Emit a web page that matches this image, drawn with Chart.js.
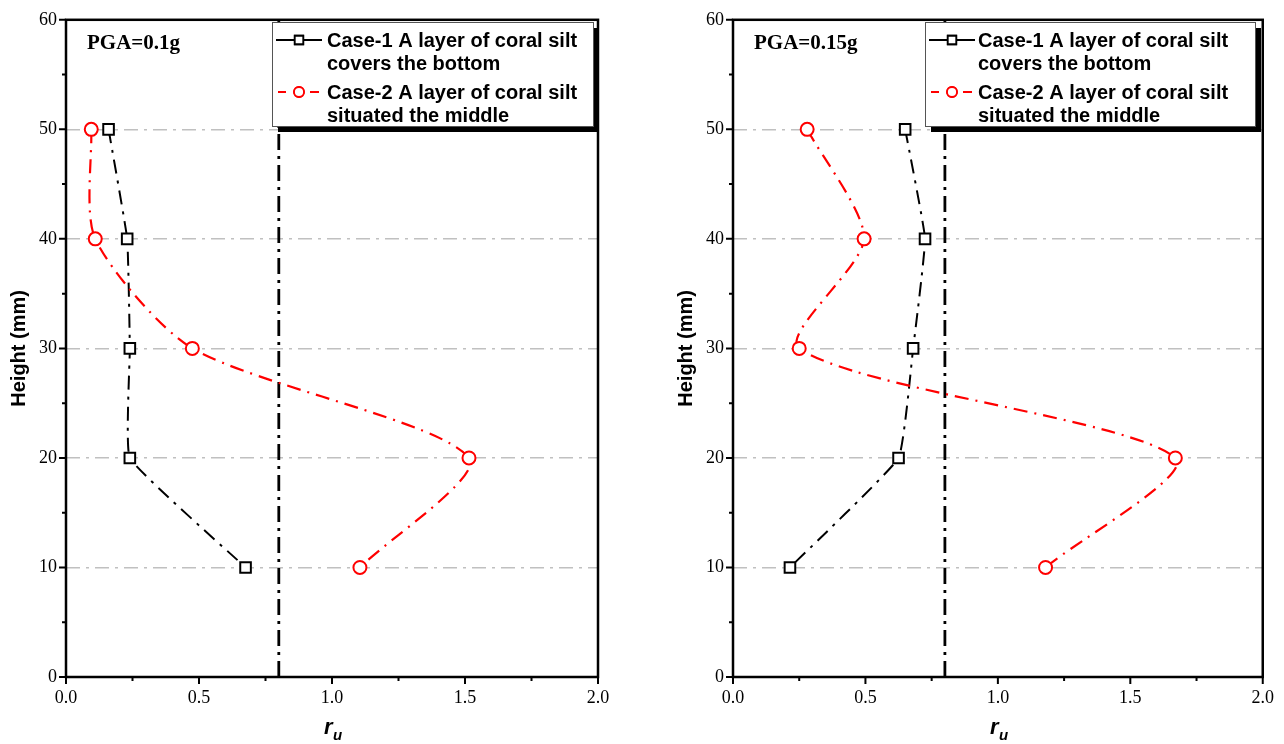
<!DOCTYPE html>
<html>
<head>
<meta charset="utf-8">
<script src="https://cdn.jsdelivr.net/npm/chart.js@4/dist/chart.umd.min.js"></script>
<style>
  html, body { margin: 0; padding: 0; background: #fff; overflow: hidden; }
  canvas { position: absolute; top: 0; }
</style>
</head>
<body>
<canvas id="chartA" width="620" height="744" style="left:0"></canvas>
<canvas id="chartB" width="617" height="744" style="left:667px"></canvas>
<script>
// data
const heights = [50, 40, 30, 20, 10];
const case1Pga01 = [0.16, 0.23, 0.24, 0.24, 0.675];
const case2Pga01 = [0.095, 0.11, 0.475, 1.515, 1.105];
const case1Pga015 = [0.65, 0.725, 0.68, 0.625, 0.215];
const case2Pga015 = [0.28, 0.495, 0.25, 1.67, 1.18];
const thresholdRu = 0.8;
const xTicks = [0, 0.5, 1, 1.5, 2];
const yTicks = [0, 10, 20, 30, 40, 50, 60];
const legendLabels = [
  ['Case-1 A layer of coral silt', 'covers the bottom'],
  ['Case-2 A layer of coral silt', 'situated the middle']
];

const SERIF = '"Liberation Serif", "Times New Roman", serif';
const SANS = '"Liberation Sans", Arial, sans-serif';

function pts(xs) { return xs.map((x, i) => ({ x: x, y: heights[i] })); }

// frame, minor ticks, titles, PGA text and the boxed legend
const decorPlugin = {
  id: 'decor',
  afterDraw(chart, args, opts) {
    const { ctx, chartArea: a, scales: { x, y } } = chart;
    ctx.save();
    // ticks (outward), major + minor
    ctx.strokeStyle = '#000';
    ctx.lineWidth = 2;
    ctx.beginPath();
    xTicks.forEach((v, i) => {
      const px = x.getPixelForValue(v);
      ctx.moveTo(px, a.bottom); ctx.lineTo(px, a.bottom + 7);
      if (i < xTicks.length - 1) {
        const mx = x.getPixelForValue(v + 0.25);
        ctx.moveTo(mx, a.bottom); ctx.lineTo(mx, a.bottom + 4);
      }
    });
    yTicks.forEach((v, i) => {
      const py = y.getPixelForValue(v);
      ctx.moveTo(a.left, py); ctx.lineTo(a.left - 7, py);
      if (i < yTicks.length - 1) {
        const my = y.getPixelForValue(v + 5);
        ctx.moveTo(a.left, my); ctx.lineTo(a.left - 4, my);
      }
    });
    ctx.stroke();
    // frame
    ctx.lineWidth = 2.5;
    ctx.strokeRect(a.left, a.top, a.right - a.left, a.bottom - a.top);

    // y title
    ctx.fillStyle = '#000';
    ctx.font = 'bold 20px ' + SANS;
    ctx.textAlign = 'center';
    ctx.textBaseline = 'middle';
    ctx.save();
    ctx.translate(19, (a.top + a.bottom) / 2);
    ctx.rotate(-Math.PI / 2);
    ctx.fillText('Height (mm)', 0, 0);
    ctx.restore();

    // x title r_u
    const cx = (a.left + a.right) / 2;
    ctx.textBaseline = 'alphabetic';
    ctx.textAlign = 'left';
    ctx.font = 'italic bold 22px ' + SANS;
    ctx.fillText('r', cx - 8, 734);
    ctx.font = 'italic bold 15px ' + SANS;
    ctx.fillText('u', cx + 1, 740);

    // PGA label
    ctx.font = 'bold 21px ' + SERIF;
    ctx.fillText(opts.pga, a.left + 21, 49);

    // legend box with shadow
    const b = opts.box;
    ctx.fillStyle = '#000';
    ctx.fillRect(b.x + 6, b.y + 6, b.w, b.h);
    ctx.fillStyle = '#fff';
    ctx.fillRect(b.x, b.y, b.w, b.h);
    ctx.strokeStyle = '#555';
    ctx.lineWidth = 1;
    ctx.strokeRect(b.x + 0.5, b.y + 0.5, b.w, b.h);

    const rowsY = [b.y + 18, b.y + 41, b.y + 70, b.y + 93];
    const styles = [
      { color: '#000', pointStyle: 'rect', radius: 6, dash: [], x0: 4, x1: 50 },
      { color: '#ff0000', pointStyle: 'circle', radius: 5, dash: [9, 6, 9, 14, 9, 6], x0: 8, x1: 46 }
    ];
    legendLabels.forEach((lines, k) => {
      const s = styles[k];
      const ly = rowsY[k * 2];
      ctx.strokeStyle = s.color;
      ctx.lineWidth = 2;
      ctx.beginPath();
      if (k === 0) {
        ctx.moveTo(b.x + 4, ly); ctx.lineTo(b.x + 50, ly);
      } else {
        ctx.moveTo(b.x + 6, ly); ctx.lineTo(b.x + 14, ly);
        ctx.moveTo(b.x + 38, ly); ctx.lineTo(b.x + 47, ly);
      }
      ctx.stroke();
      ctx.fillStyle = '#fff';
      ctx.lineWidth = 1.8;
      Chart.helpers.drawPoint(ctx, { pointStyle: s.pointStyle, radius: s.radius, borderWidth: 1.8, rotation: 0 }, b.x + 27, ly);
      ctx.fill();
      ctx.stroke();
      ctx.fillStyle = '#000';
      ctx.font = 'bold 20px ' + SANS;
      ctx.textBaseline = 'middle';
      ctx.fillText(lines[0], b.x + b.tx, ly + 1);
      ctx.fillText(lines[1], b.x + b.tx, rowsY[k * 2 + 1] + 1);
    });
    ctx.restore();
  }
};

function makeChart(id, c1, c2, pga, box, padRight) {
  return new Chart(document.getElementById(id), {
    type: 'scatter',
    data: {
      datasets: [
        {
          label: 'Case-1',
          data: pts(c1),
          showLine: true,
          borderColor: '#000',
          borderWidth: 2,
          borderDash: [14, 7, 3, 7],
          tension: 0.1,
          pointStyle: 'rect',
          pointRadius: 7.5,
          pointBorderWidth: 2,
          pointBackgroundColor: '#fff',
          pointBorderColor: '#000',
          order: 1
        },
        {
          label: 'Case-2',
          data: pts(c2),
          showLine: true,
          borderColor: '#ff0000',
          borderWidth: 2.2,
          borderDash: [14, 7, 2, 7],
          tension: 0.25,
          pointStyle: 'circle',
          pointRadius: 6.5,
          pointBorderWidth: 2,
          pointBackgroundColor: '#fff',
          pointBorderColor: '#ff0000',
          order: 0
        },
        {
          label: 'threshold',
          data: [{ x: thresholdRu, y: 0 }, { x: thresholdRu, y: 60 }],
          showLine: true,
          borderColor: '#000',
          borderWidth: 2.8,
          borderDash: [16, 6, 3, 6],
          pointRadius: 0,
          order: 2
        }
      ]
    },
    options: {
      responsive: false,
      animation: false,
      devicePixelRatio: 1,
      layout: { padding: { top: 18, right: padRight, left: 0, bottom: 0 } },
      plugins: {
        legend: { display: false },
        tooltip: { enabled: false },
        decor: { pga: pga, box: box }
      },
      scales: {
        x: {
          type: 'linear', min: 0, max: 2,
          afterFit: s => { s.height = 67; },
          afterBuildTicks: s => { s.ticks = xTicks.map(v => ({ value: v })); },
          ticks: { color: '#000', padding: 10, font: { family: SERIF, size: 18 }, callback: v => v.toFixed(1) },
          grid: { display: false, drawTicks: false },
          border: { display: false }
        },
        y: {
          type: 'linear', min: 0, max: 60,
          afterFit: s => { s.width = 66; },
          afterBuildTicks: s => { s.ticks = yTicks.map(v => ({ value: v })); },
          ticks: { color: '#000', padding: 9, font: { family: SERIF, size: 18 } },
          grid: {
            drawTicks: false,
            lineWidth: 1.5,
            color: c => (c.tick && c.tick.value > 0 && c.tick.value < 60) ? '#c0c0c0' : 'rgba(0,0,0,0)'
          },
          border: { display: false, dash: [14, 6, 3, 6] }
        }
      }
    },
    plugins: [decorPlugin]
  });
}

makeChart('chartA', case1Pga01, case2Pga01, 'PGA=0.1g',
  { x: 272, y: 22, w: 321, h: 104, tx: 55 }, 22);
makeChart('chartB', case1Pga015, case2Pga015, 'PGA=0.15g',
  { x: 925 - 667, y: 22, w: 330, h: 104, tx: 53 }, 19);
</script>
</body>
</html>
